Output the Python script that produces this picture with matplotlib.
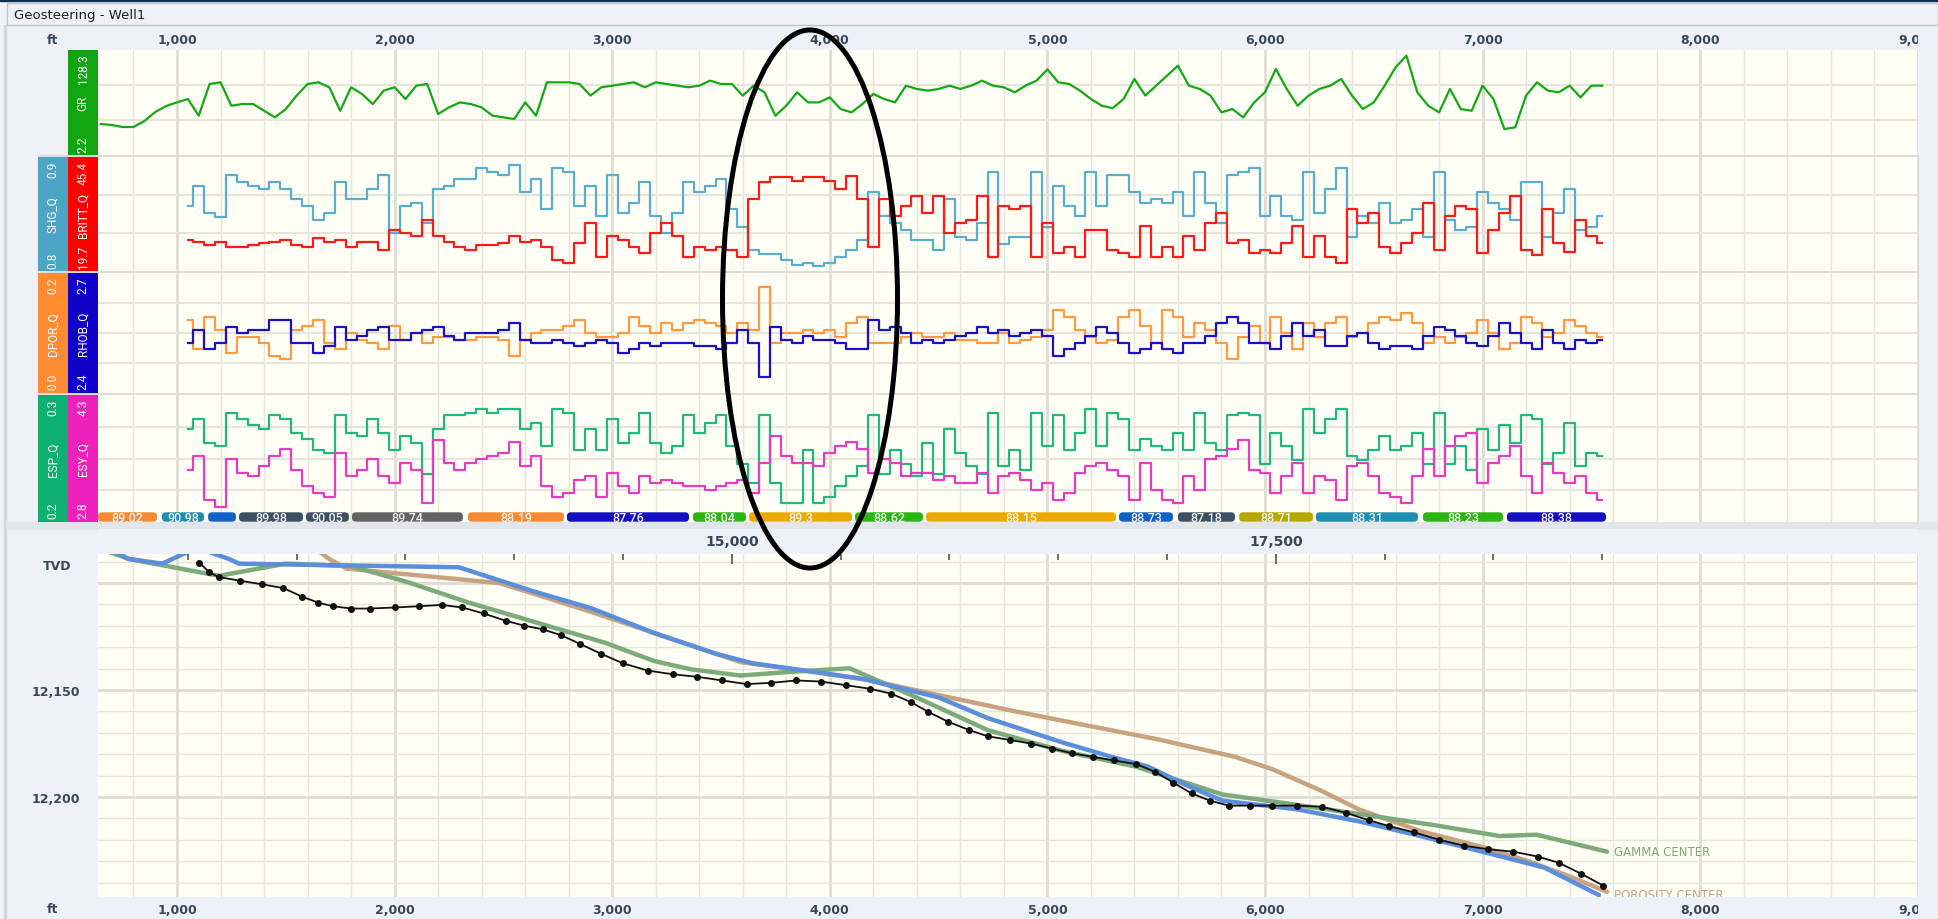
import numpy as np
import matplotlib
matplotlib.use("Agg")
import matplotlib.pyplot as plt
from matplotlib.patches import Rectangle, FancyBboxPatch, Ellipse

# ---- log curves, sampled every 50 ft of vertical section ---------------------
gr_start = 650
gr = [39.4, 38.2, 35.8, 35.8, 43.0, 53.8, 61.0,
      65.4, 69.4, 49.4, 87.5, 89.5, 61.4, 63.4, 63.4, 55.4, 47.4,
      57.4, 73.5, 87.5, 89.5, 83.5, 55.4, 83.5, 75.5, 63.4, 79.5,
      83.5, 69.4, 85.5, 87.5, 51.4, 59.4, 65.4, 63.4, 59.4, 49.4,
      47.4, 45.4, 65.4, 49.4, 89.5, 89.5, 89.5, 87.5, 73.5, 83.5,
      85.5, 87.5, 89.5, 83.5, 89.5, 87.5, 85.5, 83.5, 85.5, 91.5,
      87.5, 87.5, 73.5, 85.5, 77.5, 49.4, 61.4, 77.5, 65.4, 65.4,
      71.4, 57.4, 53.4, 63.4, 75.5, 69.4, 65.4, 85.5, 81.5, 79.5,
      81.5, 85.5, 81.5, 85.5, 91.5, 85.5, 83.5, 77.5, 85.5, 91.5,
      105.0, 89.5, 87.5, 79.5, 69.4, 61.4, 58.4, 69.4, 93.5, 73.5,
      85.5, 97.5, 109.5, 85.5, 81.5, 73.5, 53.4, 57.4, 47.4, 65.4,
      77.5, 105.5, 81.5, 61.4, 73.5, 81.5, 85.5, 93.5, 73.5, 57.4,
      65.4, 85.5, 107.5, 121.5, 77.5, 61.4, 53.4, 81.5, 57.4, 55.4,
      85.5, 69.4, 33.4, 35.4, 73.5, 89.5, 79.5, 77.5, 85.5, 71.4,
      85.5, 85.5]

q_start = 1050
shg_q = [.857, .875, .851, .847, .884, .878, .875, .872, .878,
         .872, .863, .857, .845, .851, .878, .863, .863, .872, .884,
         .833, .857, .860, .842, .872, .875, .881, .881, .890, .887,
         .884, .893, .869, .881, .854, .890, .887, .857, .875, .848,
         .884, .851, .860, .878, .848, .833, .851, .878, .869, .875,
         .881, .854, .839, .818, .815, .815, .810, .805, .807, .804,
         .807, .812, .818, .827, .869, .848, .842, .836, .827, .827,
         .818, .863, .830, .827, .842, .887, .824, .830, .830, .887,
         .839, .875, .857, .848, .887, .857, .884, .884, .869, .860,
         .863, .860, .869, .848, .887, .860, .842, .884, .887, .890,
         .848, .866, .848, .845, .887, .851, .872, .890, .830, .848,
         .842, .860, .842, .845, .854, .830, .887, .845, .836, .839,
         .869, .860, .854, .845, .878, .878, .830, .851, .872, .836,
         .839, .848]
britt_q = [26.7, 26.3, 25.6, 26.3, 25.2, 25.2, 25.6, 25.9, 26.3,
           26.7, 25.6, 25.2, 27.1, 26.3, 26.7, 25.2, 26.3, 26.3, 24.4,
           29.0, 28.2, 27.5, 31.3, 27.5, 26.3, 25.2, 24.4, 25.6, 25.6,
           25.9, 27.5, 26.3, 26.7, 25.2, 22.1, 21.4, 25.9, 30.5, 22.9,
           27.5, 26.7, 25.2, 23.7, 28.2, 30.5, 27.5, 22.9, 25.2, 24.4,
           25.2, 24.4, 22.9, 35.9, 39.7, 40.8, 40.8, 40.1, 40.8, 40.8,
           40.1, 38.2, 41.2, 35.9, 25.2, 35.9, 32.1, 34.3, 36.6, 32.8,
           36.6, 28.2, 30.5, 31.3, 36.6, 22.9, 34.3, 33.6, 34.3, 22.9,
           30.5, 23.7, 25.2, 22.9, 29.0, 29.0, 24.4, 23.7, 22.9, 29.8,
           22.9, 25.2, 22.9, 27.5, 24.4, 30.5, 32.8, 25.9, 26.7, 23.7,
           24.4, 23.7, 25.9, 29.8, 22.9, 27.5, 22.9, 21.4, 33.6, 30.5,
           32.8, 25.2, 23.7, 25.9, 28.2, 35.1, 24.4, 32.1, 34.3, 33.6,
           23.7, 29.0, 32.8, 36.6, 24.4, 23.3, 33.6, 25.9, 24.0, 31.3,
           27.5, 25.9]
dpor_q = [.122, .073, .127, .105, .067, .094, .094, .084, .062,
          .056, .105, .111, .122, .084, .073, .100, .089, .084, .073,
          .111, .089, .100, .084, .094, .094, .089, .089, .094, .094,
          .089, .062, .089, .100, .105, .105, .111, .122, .100, .094,
          .094, .100, .127, .111, .100, .116, .105, .116, .122, .116,
          .111, .100, .116, .105, .177, .084, .100, .100, .105, .100,
          .105, .094, .116, .127, .084, .084, .084, .094, .100, .094,
          .094, .100, .089, .089, .084, .084, .100, .084, .089, .094,
          .105, .138, .127, .105, .094, .084, .089, .127, .138, .111,
          .084, .138, .127, .094, .116, .105, .084, .056, .094, .111,
          .084, .127, .100, .073, .116, .094, .116, .127, .094, .100,
          .116, .127, .122, .133, .116, .084, .094, .084, .094, .100,
          .122, .100, .073, .084, .127, .116, .094, .100, .122, .111,
          .100, .094]
rhob_q = [2.525, 2.558, 2.509, 2.525, 2.566, 2.550, 2.558, 2.558, 2.583,
          2.583, 2.525, 2.525, 2.501, 2.517, 2.566, 2.533, 2.542, 2.558, 2.566,
          2.533, 2.533, 2.550, 2.558, 2.566, 2.542, 2.533, 2.550, 2.550, 2.550,
          2.558, 2.575, 2.533, 2.525, 2.525, 2.533, 2.525, 2.517, 2.525, 2.533,
          2.525, 2.501, 2.509, 2.525, 2.517, 2.525, 2.525, 2.525, 2.517, 2.517,
          2.509, 2.525, 2.558, 2.525, 2.440, 2.566, 2.533, 2.525, 2.542, 2.533,
          2.533, 2.525, 2.509, 2.509, 2.583, 2.558, 2.566, 2.550, 2.525, 2.533,
          2.525, 2.533, 2.542, 2.550, 2.566, 2.550, 2.558, 2.542, 2.550, 2.558,
          2.542, 2.492, 2.509, 2.525, 2.542, 2.566, 2.550, 2.525, 2.501, 2.509,
          2.525, 2.509, 2.501, 2.525, 2.525, 2.542, 2.575, 2.591, 2.575, 2.525,
          2.525, 2.509, 2.542, 2.575, 2.542, 2.558, 2.517, 2.517, 2.542, 2.550,
          2.525, 2.509, 2.517, 2.517, 2.509, 2.542, 2.566, 2.558, 2.542, 2.525,
          2.517, 2.542, 2.575, 2.550, 2.525, 2.509, 2.558, 2.525, 2.509, 2.533,
          2.525, 2.533]
esp_q = [.273, .281, .262, .260, .286, .281, .276, .273, .284,
         .281, .270, .265, .257, .254, .284, .270, .268, .281, .270,
         .257, .268, .262, .238, .273, .284, .284, .286, .289, .286,
         .289, .289, .273, .278, .260, .289, .286, .257, .273, .257,
         .281, .262, .270, .286, .262, .254, .260, .284, .270, .278,
         .284, .260, .246, .231, .284, .231, .215, .215, .257, .215,
         .220, .228, .236, .244, .284, .238, .257, .246, .236, .262,
         .238, .273, .254, .244, .238, .286, .244, .257, .241, .286,
         .260, .284, .257, .270, .289, .260, .286, .281, .257, .265,
         .260, .257, .270, .257, .286, .262, .257, .284, .286, .284,
         .246, .270, .260, .249, .289, .270, .281, .289, .252, .249,
         .257, .268, .257, .260, .270, .246, .286, .246, .260, .241,
         .273, .257, .276, .262, .284, .281, .246, .254, .278, .244,
         .254, .252]
esy_q = [3.42, 3.58, 3.06, 2.98, 3.54, 3.38, 3.34, 3.46, 3.58,
         3.66, 3.42, 3.22, 3.14, 3.10, 3.62, 3.34, 3.42, 3.54, 3.34,
         3.26, 3.50, 3.42, 3.02, 3.77, 3.50, 3.42, 3.50, 3.54, 3.58,
         3.62, 3.74, 3.46, 3.58, 3.22, 3.10, 3.14, 3.30, 3.34, 3.10,
         3.38, 3.22, 3.14, 3.34, 3.26, 3.30, 3.26, 3.22, 3.22, 3.18,
         3.22, 3.26, 3.30, 3.14, 3.50, 3.81, 3.58, 3.50, 3.50, 3.46,
         3.62, 3.70, 3.74, 3.66, 3.38, 3.54, 3.50, 3.34, 3.38, 3.38,
         3.30, 3.34, 3.26, 3.26, 3.38, 3.14, 3.34, 3.38, 3.30, 3.18,
         3.26, 3.06, 3.14, 3.38, 3.46, 3.50, 3.42, 3.34, 3.06, 3.50,
         3.18, 3.06, 3.02, 3.34, 3.18, 3.54, 3.58, 3.66, 3.77, 3.42,
         3.38, 3.14, 3.34, 3.50, 3.14, 3.34, 3.30, 3.06, 3.46, 3.50,
         3.34, 3.14, 3.10, 3.02, 3.34, 3.66, 3.34, 3.70, 3.81, 3.85,
         3.26, 3.50, 3.58, 3.70, 3.34, 3.14, 3.50, 3.38, 3.26, 3.34,
         3.14, 3.06]

# ---- dip segments along the lateral ------------------------------------------
seg_start = [637, 931, 1143, 1285, 1593, 1804, 2337, 2792, 3371, 3629,
             4116, 4442, 5329, 5600, 5881, 6234, 6726, 7112]
seg_end = [908, 1124, 1271, 1579, 1790, 2314, 2778, 3353, 3615, 4102,
           4428, 5315, 5577, 5862, 6221, 6703, 7094, 7567]
seg_dip = ["89.02", "90.98", "", "89.98", "90.05", "89.74", "88.19", "87.76",
           "88.04", "89.3", "88.62", "88.15", "88.73", "87.18", "88.71",
           "88.31", "88.23", "88.38"]
seg_color = ["#F58A35", "#1E8DB0", "#1060C8", "#3C5064", "#3C5064", "#636363",
             "#F58A35", "#1410C0", "#2DB514", "#EAAA00", "#2DB514", "#EAAA00",
             "#1060C8", "#3C5064", "#B5A800", "#1E8DB0", "#2DB514", "#1410C0"]

# ---- section view: wellbore and interpreted horizons -------------------------
survey_vs = [1102, 1148, 1193, 1290, 1392, 1488, 1574, 1648, 1716, 1801, 1886,
             2000, 2113, 2216, 2312, 2409, 2511, 2596, 2681, 2766, 2852, 2948,
             3050, 3164, 3278, 3391, 3505, 3618, 3732, 3846, 3959, 4073, 4186,
             4283, 4374, 4453, 4544, 4641, 4726, 4828, 4925, 5021, 5112, 5209,
             5305, 5408, 5493, 5578, 5663, 5748, 5834, 5930, 6032, 6146, 6260,
             6373, 6476, 6572, 6686, 6799, 6913, 7026, 7140, 7254, 7350, 7452,
             7555]
survey_tvd = [12090.4, 12094.9, 12097.2, 12098.9, 12100.6, 12102.3, 12106.3,
              12109.1, 12110.8, 12111.9, 12111.9, 12111.4, 12110.8, 12110.2,
              12111.4, 12114.2, 12117.6, 12119.9, 12121.6, 12124.4, 12128.4,
              12133.0, 12137.5, 12140.9, 12142.6, 12143.8, 12145.5, 12147.2,
              12146.6, 12145.5, 12146.0, 12147.7, 12149.4, 12151.7, 12155.7,
              12160.2, 12164.8, 12168.7, 12171.6, 12173.3, 12175.0, 12177.3,
              12179.5, 12181.2, 12182.9, 12184.6, 12188.1, 12193.2, 12198.3,
              12201.7, 12204.0, 12204.0, 12204.0, 12204.0, 12204.5, 12207.4,
              12210.8, 12213.6, 12216.5, 12219.9, 12222.7, 12224.4, 12225.5,
              12227.8, 12230.7, 12235.8, 12241.4]

gamma_vs = [636, 778, 1193, 1500, 1801, 2056, 2340, 2681, 2965, 3192, 3363,
            3590, 3817, 4090, 4385, 4726, 5067, 5408, 5805, 6089, 6430, 6771,
            7078, 7248, 7572]
gamma_tvd = [12083.5, 12088.7, 12096.6, 12090.9, 12092.1, 12099.4, 12109.1,
             12119.3, 12127.8, 12136.4, 12140.3, 12143.2, 12141.5, 12139.8,
             12152.8, 12168.7, 12178.4, 12185.8, 12198.8, 12202.8, 12207.9,
             12213.0, 12218.2, 12217.6, 12225.5]

porosity_vs = [1630, 1699, 1778, 2482, 2681, 2908, 3192, 3590, 3874, 4158, 4499,
               4840, 5180, 5521, 5862, 6032, 6260, 6430, 6714, 6998, 7214, 7396,
               7572]
porosity_tvd = [12083.5, 12088.7, 12093.2, 12100.0, 12106.3, 12113.6, 12123.3,
                12136.9, 12140.9, 12144.9, 12152.3, 12159.7, 12166.5, 12173.3,
                12181.2, 12186.9, 12197.1, 12205.7, 12215.9, 12223.3, 12230.1,
                12236.9, 12244.3]

center_vs = [682, 778, 932, 1091, 1239, 1284, 2295, 2624, 2908, 3192, 3476,
             3647, 3931, 4158, 4499, 4726, 5067, 5294, 5464, 5635, 5805, 6146,
             6430, 6714, 6998, 7282, 7535]
center_tvd = [12083.5, 12088.7, 12090.9, 12083.5, 12088.7, 12090.9, 12092.6,
              12103.4, 12111.9, 12123.3, 12133.0, 12137.5, 12141.5, 12144.9,
              12153.4, 12163.1, 12174.4, 12181.2, 12185.8, 12194.3, 12201.7,
              12205.7, 12211.3, 12218.2, 12225.5, 12232.9, 12245.8]

# ---- layout -------------------------------------------------------------------
W, H = 1938, 920
VS_LIM = (637, 9001)
TVD_LIM = (12246.7, 12086.4)
MD_SHIFT = 11450

BG = "#EEF2F8"
PLOT_BG = "#FFFFF6"
GRID = "#E6E4DB"
GRID_MAJOR = "#DEDCD3"
AXIS_TXT = "#3A4656"
NARROW = ["Roboto", "DejaVu Sans"]


def box(x0, y0, x1, y1):
    # pixel box measured from the top-left corner -> figure fraction rect
    return [x0 / W, 1 - y1 / H, (x1 - x0) / W, (y1 - y0) / H]


def fig_rect(x0, y0, x1, y1, **kw):
    r = box(x0, y0, x1, y1)
    fig.add_artist(Rectangle((r[0], r[1]), r[2], r[3],
                             transform=fig.transFigure, **kw))


def bare(ax):
    for s in ax.spines.values():
        s.set_visible(False)
    ax.set_xticks([])
    ax.set_yticks([])


def vgrid(ax):
    for v in range(800, 9001, 200):
        major = v % 1000 == 0
        ax.axvline(v, color=GRID_MAJOR if major else GRID,
                   lw=2.0 if major else 1.0, zorder=0)


def track(y0, y1, nbands):
    ax = fig.add_axes(box(98, y0, 1918, y1))
    ax.set_facecolor(PLOT_BG)
    bare(ax)
    ax.set_xlim(*VS_LIM)
    vgrid(ax)
    for k in range(1, nbands):
        ax.plot([0, 1], [k / nbands] * 2, transform=ax.transAxes,
                color=GRID, lw=1.5, zorder=0)
    return ax


def label_col(x0, x1, y0, y1, color, name, lo, hi):
    lab = fig.add_axes(box(x0, y0, x1, y1))
    lab.set_facecolor(color)
    bare(lab)
    kw = dict(rotation=90, ha="center", color="white", fontsize=8.5,
              family=NARROW, transform=lab.transAxes)
    lab.text(0.5, 0.03, lo, va="bottom", **kw)
    lab.text(0.5, 0.5, name, va="center", **kw)
    lab.text(0.5, 0.97, hi, va="top", **kw)


def curve(ax, start, values, lim, color, steps=True):
    depth = start + 50 * np.arange(len(values))
    ax.plot(depth, values, color=color, lw=1.6,
            drawstyle="steps-mid" if steps else "default")
    ax.set_ylim(*lim)


fig = plt.figure(figsize=(W / 100, H / 100), dpi=100, facecolor=BG)

# window chrome
fig_rect(0, 0, 1938, 2, color="#0C2D4E", zorder=-2)
fig_rect(7, 4, 1938, 26, fc=BG, ec="#BFC5CC", lw=1, zorder=-2)
fig_rect(4, 26, 6, 920, color="#D3D7DD", zorder=-2)
fig.text(14 / W, 1 - 15 / H, "Geosteering - Well1", fontsize=9.5,
         va="center", color="#1E1E1E")

# separators behind the log tracks
fig_rect(38, 156, 1918, 523, color="#DCDCD8", zorder=-1)
fig_rect(6, 523, 1938, 530, color="#E2E5EA", zorder=-1)

# ---- log tracks ---------------------------------------------------------------
ax_gr = track(51, 156, 3)
curve(ax_gr, gr_start, gr, (2.2, 128.3), "#15A815", steps=False)
label_col(68, 98, 51, 156, "#12A512", "GR", "2.2", "128.3")

ax2 = track(158, 272, 3)
curve(ax2, q_start, shg_q, (0.8, 0.9), "#5AAECB")
ax2b = ax2.twinx()
bare(ax2b)
curve(ax2b, q_start, britt_q, (19.7, 45.4), "#FF1A1A")
label_col(38, 68, 158, 272, "#4BA6C6", "SHG_Q", "0.8", "0.9")
label_col(68, 98, 158, 272, "#FF0000", "BRITT_Q", "19.7", "45.4")

ax3 = track(274, 394, 4)
curve(ax3, q_start, dpor_q, (0.0, 0.2), "#FF9A40")
ax3b = ax3.twinx()
bare(ax3b)
curve(ax3b, q_start, rhob_q, (2.4, 2.7), "#1A10C8")
label_col(38, 68, 274, 394, "#FF8C33", "DPOR_Q", "0.0", "0.2")
label_col(68, 98, 274, 394, "#1000C8", "RHOB_Q", "2.4", "2.7")

ax4 = track(396, 523, 4)
curve(ax4, q_start, esp_q, (0.2, 0.3), "#20B880")
ax4b = ax4.twinx()
bare(ax4b)
curve(ax4b, q_start, esy_q, (2.8, 4.3), "#E83CC0")
label_col(38, 68, 396, 523, "#0DB070", "ESP_Q", "0.2", "0.3")
label_col(68, 98, 396, 523, "#EE22BB", "ESY_Q", "2.8", "4.3")

# dip segment strip
strip = fig.add_axes(box(98, 513, 1918, 523))
strip.axis("off")
strip.set_xlim(*VS_LIM)
strip.set_ylim(0, 1)
for s, e, dip, c in zip(seg_start, seg_end, seg_dip, seg_color):
    strip.add_patch(FancyBboxPatch((s, 0.03), e - s, 0.94,
                                   boxstyle="round,pad=0,rounding_size=18",
                                   mutation_aspect=0.0217, fc=c, ec="none"))
    strip.text((s + e) / 2, 0.5, dip, ha="center", va="center",
               fontsize=9, weight="medium", color="#F2F2F2",
               family=["Roboto", "DejaVu Sans"])

# depth labels above the tracks
top = fig.add_axes(box(98, 27, 1918, 51))
top.axis("off")
top.set_xlim(*VS_LIM)
top.set_ylim(0, 1)
for v in range(1000, 9001, 1000):
    top.text(v, 0.45, f"{v:,}", ha="center", va="center", fontsize=9,
             weight="bold", color=AXIS_TXT, clip_on=True)
fig.text(52 / W, 1 - 40 / H, "ft", ha="center", va="center", fontsize=9,
         weight="bold", color=AXIS_TXT)

# ---- section view -------------------------------------------------------------
bot = fig.add_axes(box(98, 555, 1918, 898))
bot.set_facecolor(PLOT_BG)
for s in bot.spines.values():
    s.set_visible(False)
bot.set_xlim(*VS_LIM)
bot.set_ylim(*TVD_LIM)
vgrid(bot)
for t in range(12090, 12241, 10):
    major = t % 50 == 0
    bot.axhline(t, color=GRID_MAJOR if major else GRID,
                lw=2.0 if major else 1.0, zorder=0)
bot.set_xticks([])
bot.set_yticks([12150, 12200], ["12,150", "12,200"])
bot.tick_params(axis="y", length=0, pad=13, labelsize=9, labelcolor=AXIS_TXT)
for lbl in bot.get_yticklabels():
    lbl.set_fontweight("bold")

bot.plot(porosity_vs, porosity_tvd, color="#C9A27F", lw=3.2,
         solid_capstyle="round", zorder=2)
bot.plot(gamma_vs, gamma_tvd, color="#7DAA7A", lw=3.2,
         solid_capstyle="round", zorder=2)
bot.plot(center_vs, center_tvd, color="#5B8EDB", lw=3.2,
         solid_capstyle="round", zorder=3)
bot.plot(survey_vs, survey_tvd, color="#111111", lw=1.3, marker="o",
         ms=4, zorder=4)
bot.annotate("GAMMA CENTER", (gamma_vs[-1], gamma_tvd[-1]), xytext=(5, 0),
             textcoords="offset points", va="center", fontsize=8.5,
             color="#7DAA7A")
bot.annotate("POROSITY CENTER", (porosity_vs[-1], porosity_tvd[-1]),
             xytext=(5, -2), textcoords="offset points", va="center",
             fontsize=8.5, color="#C9A27F", clip_on=True)
fig.text(57 / W, 1 - 567 / H, "TVD", ha="center", va="center", fontsize=9,
         weight="bold", color=AXIS_TXT)

# measured depth band between the panels
md = fig.add_axes(box(98, 530, 1918, 555))
md.set_zorder(3)
md.set_facecolor("#EDF2F9")
for s in md.spines.values():
    s.set_visible(False)
md.set_xlim(VS_LIM[0] + MD_SHIFT, VS_LIM[1] + MD_SHIFT)
md.set_ylim(0, 1)
md.set_yticks([])
md.set_xticks([15000, 17500])
md.set_xticks(np.arange(12500, 19001, 500), minor=True)
md.tick_params(axis="x", which="major", length=7, width=1.2, color="#555555",
               labelbottom=False)
md.tick_params(axis="x", which="minor", length=4, width=1.2, color="#555555")
for v in (15000, 17500):
    md.text(v, 0.5, f"{v:,}", ha="center", va="center", fontsize=10,
            weight="bold", color=AXIS_TXT)

# depth labels below the section
low = fig.add_axes(box(98, 898, 1918, 920))
low.axis("off")
low.set_xlim(*VS_LIM)
low.set_ylim(0, 1)
for v in range(1000, 9001, 1000):
    low.text(v, 0.45, f"{v:,}", ha="center", va="center", fontsize=9,
             weight="bold", color=AXIS_TXT, clip_on=True)
fig.text(52 / W, 1 - 910 / H, "ft", ha="center", va="center", fontsize=9,
         weight="bold", color=AXIS_TXT)

# highlighted interval
fig.add_artist(Ellipse((810 / W, 1 - 300 / H), 175 / W, 538 / H,
                       transform=fig.transFigure, fill=False, lw=3.6,
                       ec="black", zorder=20))

fig.savefig("out.png", dpi=100, facecolor=fig.get_facecolor())
